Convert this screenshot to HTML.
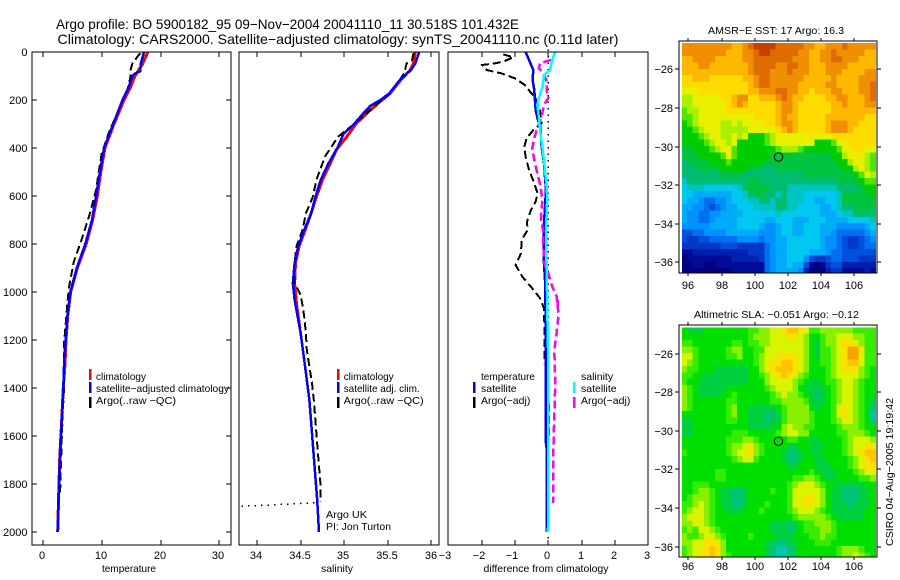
<!DOCTYPE html>
<html>
<head>
<meta charset="utf-8">
<title>Argo profile</title>
<style>
html,body{margin:0;padding:0;background:#fff;}
svg{display:block;}
text{font-family:"Liberation Sans",sans-serif;fill:#000;font-size:10.5px;}
.tick{font-size:11px;}
.title{font-size:14px;}
line,rect.box{shape-rendering:crispEdges;}
</style>
</head>
<body>
<svg id="chart" width="900" height="580" viewBox="0 0 900 580" xmlns="http://www.w3.org/2000/svg">
<defs>
<clipPath id="clipMap1"><rect x="682" y="43" width="195" height="230"/></clipPath>
<clipPath id="clipMap2"><rect x="682" y="327" width="195" height="230"/></clipPath>
</defs>
<text class="title" x="56" y="29" textLength="463" lengthAdjust="spacingAndGlyphs">Argo profile: BO 5900182_95 09−Nov−2004 20041110_11 30.518S 101.432E</text>
<text class="title" x="57.5" y="44" textLength="561" lengthAdjust="spacingAndGlyphs">Climatology: CARS2000. Satellite−adjusted climatology: synTS_20041110.nc (0.11d later)</text>

<text x="129" y="572" text-anchor="middle" textLength="54" lengthAdjust="spacingAndGlyphs">temperature</text>
<text x="337" y="572" text-anchor="middle">salinity</text>
<text x="546" y="572" text-anchor="middle" textLength="125" lengthAdjust="spacingAndGlyphs">difference from climatology</text>

<text x="96" y="380" textLength="50" lengthAdjust="spacingAndGlyphs">climatology</text>
<text x="96" y="392" textLength="133" lengthAdjust="spacingAndGlyphs">satellite−adjusted climatology</text>
<text x="96" y="404" textLength="80" lengthAdjust="spacingAndGlyphs">Argo(..raw −QC)</text>

<text x="343.7" y="380" textLength="50" lengthAdjust="spacingAndGlyphs">climatology</text>
<text x="343.7" y="392" textLength="76" lengthAdjust="spacingAndGlyphs">satellite adj. clim.</text>
<text x="343.7" y="404" textLength="80" lengthAdjust="spacingAndGlyphs">Argo(..raw −QC)</text>
<text x="326" y="518" textLength="41" lengthAdjust="spacingAndGlyphs">Argo UK</text>
<text x="326" y="530" textLength="65" lengthAdjust="spacingAndGlyphs">PI: Jon Turton</text>

<text x="481" y="380" textLength="54" lengthAdjust="spacingAndGlyphs">temperature</text>
<text x="481" y="392">satellite</text>
<text x="481" y="404">Argo(−adj)</text>
<text x="581" y="380">salinity</text>
<text x="581" y="392">satellite</text>
<text x="581" y="404">Argo(−adj)</text>

<text x="776" y="34" text-anchor="middle" textLength="136" lengthAdjust="spacingAndGlyphs">AMSR−E SST: 17 Argo: 16.3</text>
<text x="776.5" y="318" text-anchor="middle" textLength="165" lengthAdjust="spacingAndGlyphs">Altimetric SLA: −0.051 Argo: −0.12</text>
<text transform="translate(893,546) rotate(-90)" textLength="148" lengthAdjust="spacingAndGlyphs">CSIRO 04−Aug−2005 19:19:42</text>
</svg>
<script>
// ---------- tick labels ----------
var depthTicks = [0,200,400,600,800,1000,1200,1400,1600,1800,2000];
var tempTicks = [0,10,20,30];
var salTicks = [34,34.5,35,35.5,36];
var diffTicks = [-3,-2,-1,0,1,2,3];
var lonTicks = [96,98,100,102,104,106];
var latTicks = [-26,-28,-30,-32,-34,-36];

// ---------- temperature panel ----------
var tClimDepth = [0,50,100,150,200,300,400,500,600,700,800,900,1000,1100,1200,1300,1400,1500,1600,1700,1800,1900,2000];
var tClim = [17.8,16.9,15.6,14.8,13.75,12.05,10.5,9.8,9.2,8.4,7.3,5.8,4.67,4.15,3.87,3.7,3.4,3.2,3.0,2.8,2.67,2.56,2.45];
var tSatDepth = [0,50,80,90,100,150,200,300,400,500,600,700,800,900,1000,1100,1200,1300,1400,1500,1600,1700,1800,1900,2000];
var tSat = [17.15,16.6,16.5,15.6,15.2,14.5,13.5,11.93,10.35,9.65,9.0,8.3,7.15,5.7,4.6,4.1,3.8,3.55,3.4,3.2,3.0,2.8,2.67,2.56,2.45];
var tArgoDepth = [5,47,70,110,167,200,277,340,423,506,575,672,783,874,978,1033,1228,1400,1510,1617,1728,1850];
var tArgo = [16.5,15.2,14.9,14.8,14.2,13.5,12.2,11.1,9.95,9.4,9,7.95,6.5,5.2,4.4,4.15,3.5,3.53,3.3,3.13,3.0,2.85];

// ---------- salinity panel ----------
var sClimDepth = [0,47,75,117,172,214,256,298,353,408,464,533,603,672,742,811,880,964,1047,1150];
var sClim = [35.82,35.8,35.76,35.65,35.53,35.39,35.26,35.14,35.03,34.91,34.84,34.75,34.68,34.62,34.55,34.48,34.44,34.43,34.45,34.49];
var sSatDepth = [0,5,47,75,117,172,197,225,256,298,342,394,464,533,603,672,742,811,880,964,1033,1172,1311,1450,1589,1728,1867,2000];
var sSat = [35.86,35.86,35.82,35.77,35.64,35.52,35.43,35.3,35.22,35.12,34.99,34.93,34.82,34.73,34.67,34.62,34.54,34.47,34.43,34.41,34.43,34.5,34.55,34.6,34.63,34.66,34.69,34.71];
var sArgoDepth = [5,35,47,89,117,172,214,256,298,353,436,533,603,672,742,811,880,964,1006,1033,1102,1172,1241,1311,1380,1450,1589,1728,1811,1874];
var sArgo = [35.8,35.78,35.72,35.69,35.64,35.53,35.39,35.26,35.12,34.93,34.78,34.68,34.64,34.56,34.52,34.45,34.43,34.43,34.49,34.51,34.54,34.56,34.57,34.6,34.63,34.65,34.68,34.71,34.73,34.73];
var surfaceLinkSal = [33.82,34.69];
var surfaceLinkDepth = [1893,1878];

// ---------- difference panel ----------
var dArgoTDepth = [10,22,40,47,54,75,89,110,138,165,186,242,297,325,360,394,436,491,547,589,624,658,707,742,783,839,887,936,985,1026,1068,1130,1242,1297];
var dArgoT = [-1.35,-1.05,-1.35,-1.6,-1.98,-1.85,-1.4,-1.0,-0.7,-0.55,-0.4,-0.25,-0.2,-0.45,-0.65,-0.72,-0.68,-0.58,-0.42,-0.32,-0.38,-0.52,-0.64,-0.62,-0.8,-0.82,-0.98,-0.78,-0.48,-0.25,-0.13,-0.12,-0.12,-0.12];
var dArgoTDeepDepth = [1464,1617];
var dArgoTDeep = [0.02,0.02];
var dSatTDepth = [0,33,75,117,158,242,277,311,394,464,575,742,881,950,1075,1317,1617,1650,2000];
var dSatT = [-0.68,-0.58,-0.45,-0.47,-0.42,-0.38,-0.32,-0.24,-0.2,-0.13,-0.07,-0.14,-0.13,-0.1,-0.08,-0.07,-0.08,-0.05,-0.05];
var dSatSDepth = [0,33,75,96,144,186,221,277,325,394,464,547,603,742,881,1075,1300,2000];
var dSatS = [0.2,0.12,0.05,-0.13,-0.17,-0.27,-0.33,-0.28,-0.25,-0.18,-0.12,-0.06,-0.03,-0.07,-0.05,-0.03,0,-0.01];
var dArgoSDepth = [33,47,68,89,124,165,186,221,269,325,360,401,450,505,561,617,700,742,811,881,922,978,1019,1061,1033,1102,1172,1242,1380,1520,1660,1880];
var dArgoS = [0.08,-0.25,-0.28,-0.15,-0.04,-0.05,0.02,-0.13,-0.2,-0.35,-0.42,-0.48,-0.42,-0.33,-0.23,-0.18,-0.22,-0.16,-0.15,-0.12,0,0.12,0.25,0.28,0.28,0.3,0.25,0.18,0.21,0.18,0.15,0.14];
var zeroLineValues = [0,0];
var zeroLineDepth = [-10,2040];

// ---------- map positions ----------
var argoLon = [101.432];
var argoLat = [-30.518];

// ---------- SST map levels (rows north to south) ----------
var sstGrid = [
[18,18,18,18,18,18,18,18,18,17,17,18,19,20,20,20,20,19,19,19,19,19,18,18,17,17,18,18,18,19,18,18,18,18,18],
[18,18,18,18,18,18,18,18,17,17,17,18,18,19,20,20,19,19,19,19,19,18,18,17,17,18,18,19,18,18,18,18,18,17,17],
[17,17,18,18,18,18,17,17,17,17,17,18,18,19,19,19,19,19,19,19,18,18,18,17,17,18,18,19,19,18,18,18,17,17,17],
[17,17,17,18,18,17,17,17,17,17,17,17,18,19,19,19,19,18,18,19,19,18,18,17,17,17,18,18,18,18,17,17,17,17,17],
[17,17,17,17,17,17,17,17,17,17,17,17,18,19,19,19,18,18,18,19,18,18,18,17,17,17,18,18,18,17,17,17,17,18,18],
[16,16,17,17,17,16,16,16,16,16,16,17,17,18,19,19,18,18,18,18,18,18,17,17,17,17,17,18,17,17,17,17,18,18,18],
[16,16,16,16,16,16,16,16,16,16,16,16,17,18,19,19,18,18,18,18,18,17,17,17,17,17,18,18,17,17,17,17,18,18,19],
[15,15,15,16,16,16,16,16,16,16,16,16,17,17,18,18,18,19,19,18,18,17,17,16,17,17,17,18,18,17,17,17,18,18,19],
[14,14,15,15,15,15,15,16,16,17,18,18,16,16,17,17,17,18,19,18,17,17,16,16,16,16,17,17,18,18,17,17,17,18,19],
[14,14,15,15,15,15,15,15,16,17,18,17,16,16,16,16,16,17,18,18,17,16,16,16,16,16,16,17,17,18,17,17,17,18,18],
[13,14,14,15,15,15,15,15,16,16,16,16,16,16,16,16,16,17,18,18,17,16,16,16,16,16,16,17,17,17,17,17,17,17,17],
[13,13,14,15,15,15,15,15,15,15,15,15,15,16,16,16,16,17,18,17,17,16,16,16,16,16,17,17,17,17,17,17,17,16,16],
[12,13,14,15,15,15,15,14,14,15,14,15,15,15,15,16,16,17,18,18,17,16,16,16,16,16,17,18,18,18,17,17,16,16,16],
[12,12,13,14,15,15,15,14,14,14,14,14,15,15,15,15,15,16,17,18,17,16,16,16,16,16,17,18,18,18,17,16,16,16,16],
[12,12,12,13,14,15,15,14,14,15,14,15,12,12,12,13,14,15,15,15,15,15,15,15,15,15,15,16,16,16,16,16,16,16,16],
[12,12,12,12,13,14,15,15,14,15,12,12,12,12,12,13,14,15,15,15,15,15,15,15,12,12,12,13,15,15,16,16,16,16,16],
[11,11,12,12,12,13,14,15,15,13,12,12,12,12,12,12,12,13,14,14,14,13,12,12,12,12,12,12,13,15,15,16,16,15,15],
[11,11,11,12,12,12,12,13,15,13,12,12,12,12,12,12,11,11,11,11,11,11,11,11,11,11,11,12,12,14,15,15,15,14,13],
[10,11,11,11,11,12,12,12,13,12,12,12,12,12,12,11,11,11,11,11,11,11,11,11,11,11,11,11,12,12,14,15,15,14,13],
[10,10,10,11,11,11,11,12,12,12,12,12,11,11,10,10,10,11,11,11,11,11,11,11,11,11,11,11,11,12,12,14,15,14,13],
[10,10,10,10,10,10,10,11,11,11,11,10,10,10,10,10,10,10,10,10,10,10,11,11,11,11,11,11,11,11,11,12,13,15,14],
[9,10,10,10,10,10,10,10,10,10,10,10,11,11,10,10,10,10,10,10,10,10,10,10,10,10,10,10,11,11,11,11,12,13,13],
[8,9,9,9,8,8,8,8,8,8,9,10,11,11,11,11,10,10,10,9,9,9,9,9,9,9,9,9,10,10,10,10,11,12,12],
[8,8,7,7,7,7,7,7,7,8,8,9,10,11,11,10,10,9,10,9,9,9,8,8,8,8,8,8,9,11,11,11,11,11,12],
[8,7,7,6,5,5,6,6,7,8,8,8,9,9,10,10,9,10,10,9,9,9,8,8,7,7,8,8,9,11,11,11,11,11,11],
[7,7,6,6,5,4,5,6,7,7,8,8,8,9,9,9,9,10,10,9,9,8,8,8,8,7,7,8,9,10,10,11,11,11,11],
[7,6,6,5,5,6,6,7,7,7,7,8,8,8,8,8,8,9,8,8,8,8,8,8,8,7,7,7,8,9,9,10,10,10,10],
[7,6,6,5,5,6,7,7,7,7,8,8,8,8,8,7,7,8,8,8,7,7,7,8,8,8,7,7,7,7,8,8,8,8,9],
[6,6,6,6,6,7,7,7,7,7,8,8,8,8,7,6,6,7,8,8,7,7,8,8,8,7,7,7,6,6,6,6,6,7,8],
[4,4,5,5,6,6,6,6,7,7,7,7,7,7,6,6,6,7,8,8,7,7,8,8,8,7,7,6,5,5,5,5,5,6,7],
[4,3,3,4,4,5,5,5,5,5,6,6,6,6,5,6,6,7,7,8,8,8,8,8,8,7,6,6,5,4,3,3,4,5,6],
[3,3,3,3,3,3,3,4,4,4,3,3,3,3,3,5,6,7,7,8,8,8,8,8,8,7,6,6,5,4,3,3,4,5,5],
[1,1,2,2,2,2,2,2,2,2,2,2,3,3,3,5,6,7,7,8,8,8,8,7,7,7,6,5,5,4,4,4,4,4,4],
[0,1,1,1,1,1,1,1,1,2,2,2,2,2,3,5,6,7,7,8,8,8,6,4,3,3,4,5,5,4,4,4,3,3,3],
[0,0,1,1,0,0,1,1,1,1,1,1,1,1,1,5,6,7,7,8,7,7,4,1,0,1,3,4,4,2,2,2,2,2,2],
[0,0,0,0,0,0,0,0,0,1,1,1,1,1,1,5,6,7,7,7,7,6,2,0,0,0,2,3,3,1,1,1,1,2,1]
];

// ---------- SLA map levels (rows north to south) ----------
var slaGrid = [
[12,11,11,11,12,12,12,12,12,12,12,12,13,13,14,14,15,15,16,17,17,16,15,13,13,14,14,14,14,14,14,13,13,13,13],
[12,12,12,12,12,12,12,12,12,12,12,12,13,14,14,14,15,15,15,16,16,15,14,12,12,13,14,14,15,15,15,14,14,13,13],
[13,13,12,12,12,12,12,12,12,13,13,12,13,13,14,14,15,15,15,15,15,15,14,12,11,13,14,14,15,16,16,15,14,13,13],
[14,14,13,12,12,12,12,12,13,14,14,12,12,13,13,15,15,15,15,15,15,15,14,12,11,13,13,14,15,16,18,18,16,13,13],
[15,15,13,12,12,12,12,12,13,13,14,12,12,13,14,15,15,16,16,16,16,15,14,12,11,13,13,14,15,16,18,18,15,13,13],
[15,14,13,12,12,12,12,12,12,12,12,12,12,13,14,15,16,16,17,17,16,15,14,12,12,13,13,14,15,16,17,17,15,13,13],
[14,13,13,12,12,12,11,11,11,11,11,11,12,12,14,15,16,17,17,17,16,15,14,12,12,12,13,14,15,16,16,16,14,13,12],
[13,13,12,12,11,11,11,11,11,11,11,11,12,12,13,14,15,16,17,16,15,14,13,12,12,12,13,14,15,15,15,15,14,13,12],
[13,12,12,11,11,11,11,11,11,11,11,11,12,12,12,14,15,15,15,15,14,13,12,11,11,12,13,13,14,15,15,14,13,12,12],
[14,13,12,11,11,11,11,11,12,12,12,12,12,12,12,13,14,15,15,15,14,12,11,11,11,11,12,13,14,15,15,14,13,12,12],
[14,13,12,11,11,11,11,12,12,13,12,12,12,12,12,12,13,14,15,14,14,13,12,11,10,11,12,13,14,15,15,14,13,12,12],
[14,13,12,12,12,12,12,12,13,13,12,12,12,12,12,12,13,13,14,14,14,14,13,11,11,11,12,13,14,15,15,14,13,12,11],
[14,13,12,12,12,12,12,12,13,14,12,12,11,11,11,11,11,12,13,14,14,14,14,12,11,12,12,13,15,16,15,14,13,12,10],
[12,12,12,12,12,12,12,12,13,14,12,12,11,11,11,10,10,11,13,14,14,14,14,13,12,12,12,13,15,16,15,14,13,12,9],
[11,11,12,12,12,12,12,12,13,13,12,12,11,11,11,10,11,11,13,14,14,14,14,13,12,12,12,13,14,15,15,14,13,12,10],
[11,11,12,12,12,12,12,12,12,12,12,12,11,11,11,11,11,12,14,15,14,14,13,13,12,12,12,12,13,14,14,14,13,12,12],
[11,11,12,12,12,12,12,12,12,13,13,13,12,12,12,12,12,13,14,15,15,14,14,12,12,12,12,12,13,13,14,14,14,13,12],
[12,12,12,12,12,12,12,12,13,13,13,14,14,13,12,12,12,12,12,13,13,12,12,11,11,12,12,12,12,13,14,15,15,15,14],
[12,12,12,12,12,12,12,12,13,14,14,15,16,14,13,12,12,12,12,11,11,12,12,11,11,11,12,12,12,13,14,15,15,16,16],
[13,12,12,12,12,12,12,12,13,14,15,15,16,14,13,12,12,12,11,10,10,11,12,11,11,12,12,12,12,13,14,15,16,17,17],
[12,12,12,12,12,12,12,12,12,13,14,15,15,13,12,12,12,12,11,10,10,11,12,12,11,11,12,12,12,12,13,14,15,16,17],
[12,12,12,12,12,12,12,12,12,12,12,12,12,12,12,12,12,12,12,11,11,12,12,12,11,11,11,12,12,12,13,14,15,16,16],
[12,12,12,12,12,12,13,13,12,12,12,12,12,12,12,12,12,12,12,12,12,12,12,13,12,11,11,11,12,12,12,13,14,15,15],
[12,12,12,12,12,12,13,13,12,12,12,12,12,12,12,12,12,12,12,12,13,13,14,14,13,12,11,11,12,12,12,12,13,13,14],
[12,12,13,13,13,12,12,12,12,12,12,12,12,12,12,12,12,12,12,13,14,15,15,15,14,13,12,12,11,11,11,11,11,12,12],
[12,12,13,14,14,13,12,11,11,10,10,11,12,12,12,12,13,12,12,13,15,15,15,15,15,14,12,11,11,10,10,10,11,11,12],
[12,13,14,14,14,13,12,11,11,10,10,11,12,12,12,12,12,12,12,13,15,15,16,16,15,14,12,11,11,10,10,10,11,11,12],
[13,13,14,15,14,13,12,11,11,10,10,11,12,12,12,13,12,12,12,13,15,15,16,15,15,14,12,11,11,11,10,11,11,11,12],
[13,14,15,15,14,13,12,12,11,11,11,12,12,12,13,12,12,12,12,13,14,15,15,15,14,13,12,11,11,11,11,11,11,12,12],
[14,15,15,15,14,13,12,12,12,12,12,12,12,12,12,12,12,12,12,12,13,14,14,14,14,14,13,12,11,11,11,11,11,12,12],
[14,14,15,15,14,13,12,12,12,12,12,12,12,12,12,12,11,11,11,10,11,12,13,13,14,14,14,13,12,12,12,12,12,12,12],
[13,14,13,15,15,14,13,12,12,12,12,12,12,12,12,12,11,11,11,10,11,12,13,13,13,14,14,13,12,12,12,12,12,12,12],
[14,13,13,14,15,15,14,13,12,12,12,12,13,12,12,12,12,11,11,11,12,12,12,13,13,14,13,13,12,12,12,12,12,12,12],
[14,14,15,15,16,16,15,14,12,12,12,12,12,12,12,11,11,10,10,11,11,12,12,12,13,13,13,12,12,12,12,12,12,12,12],
[13,14,15,15,16,17,16,14,12,12,12,12,12,12,12,11,10,9,9,10,11,12,12,12,12,12,12,12,13,14,14,14,13,12,12],
[13,14,15,16,16,17,16,14,13,12,12,12,12,12,12,11,10,9,9,10,11,12,12,12,12,12,12,12,13,14,14,15,14,13,12]
];

// ---------- colour scales, indexed by level 0..20 ----------
var sstColors = ['#000080','#000c98','#0020b0','#0038c8','#0050e0','#0070f0','#0090ff','#00acf8','#00c8f0','#00c4c0','#00bc70','#00c440','#00cc00','#50e400','#a8f000','#e8f000','#ffdc00','#ffb800','#f09000','#e06c00','#c84000'];
var slaColors = ['#000080','#000c98','#0020b0','#0038c8','#0050e0','#0070f0','#0090ff','#00acf8','#00c8f0','#00c8a8','#00c478','#00d040','#00e000','#38ec00','#88f000','#d8f400','#fce000','#ffc400','#f8a400','#e07400','#c84800'];

var NS = 'http://www.w3.org/2000/svg';
var svg = document.getElementById('chart');

// ---------- axis functions ----------
function yDepth(d){ return 52 + d * 0.24; }
function xTemp(t){ return 43.3 + t * 5.87; }
function xSal(s){ return 257.3 + (s - 34) * 86.85; }
function xDiff(v){ return 548.3 + v * 33.33; }
function xLon(lon){ return 688.3 + (lon - 96) * 16.6; }
function yLat1(lat){ return 69.3 + (-26 - lat) * 19.3; }
function yLat2(lat){ return 353.5 + (-26 - lat) * 19.3; }
function fmt(n){ return String(n).replace('-', '\u2212'); }

function drawBox(x0, y0, x1, y1){
  var b = document.createElementNS(NS, 'rect');
  
  
  b.setAttribute('class', 'box');
  b.setAttribute('x', x0); b.setAttribute('y', y0);
  b.setAttribute('width', x1 - x0); b.setAttribute('height', y1 - y0);
  b.setAttribute('fill', 'none'); b.setAttribute('stroke', '#000'); b.setAttribute('stroke-width', 1);
  svg.appendChild(b);
}
function drawTick(x1, y1, x2, y2){
  var t = document.createElementNS(NS, 'line');
  
  
  t.setAttribute('x1', x1); t.setAttribute('y1', y1);
  t.setAttribute('x2', x2); t.setAttribute('y2', y2);
  t.setAttribute('stroke', '#000'); t.setAttribute('stroke-width', 1);
  svg.appendChild(t);
}
function drawLabel(x, y, str, anchor){
  var t = document.createElementNS(NS, 'text');
  
  
  t.setAttribute('class', 'tick');
  t.setAttribute('x', x); t.setAttribute('y', y);
  t.setAttribute('text-anchor', anchor);
  t.textContent = str;
  svg.appendChild(t);
}
function drawSeries(depths, values, xFn, color, width, dash, name){
  var pts = [];
  for (var i = 0; i < values.length; i++){
    pts.push(xFn(values[i]).toFixed(1) + ',' + yDepth(depths[i]).toFixed(1));
  }
  var p = document.createElementNS(NS, 'polyline');
  
  
  p.setAttribute('points', pts.join(' '));
  p.setAttribute('fill', 'none');
  p.setAttribute('stroke', color);
  p.setAttribute('stroke-width', width);
  p.setAttribute('shape-rendering', 'crispEdges');
  if (dash) p.setAttribute('stroke-dasharray', dash);
  svg.appendChild(p);
}
function drawLegendBar(x, y, color, name){
  var l = document.createElementNS(NS, 'line');
  
  
  l.setAttribute('x1', x); l.setAttribute('y1', y);
  l.setAttribute('x2', x); l.setAttribute('y2', y + 11);
  l.setAttribute('stroke', color); l.setAttribute('stroke-width', 2.5);
  svg.appendChild(l);
}
function drawMap(grid, palette, yLat, clipId, name){
  var g = document.createElementNS(NS, 'g');
  
  
  g.setAttribute('clip-path', 'url(#' + clipId + ')');
  g.setAttribute('shape-rendering', 'crispEdges');
  for (var r = 0; r < grid.length; r++){
    for (var c = 0; c < grid[r].length; c++){
      var lon = 95.6 + c / 3, lat = -24.64 - r / 3;
      var x0 = xLon(lon), x1 = xLon(lon + 1 / 3);
      var y0 = yLat(lat), y1 = yLat(lat - 1 / 3);
      var cell = document.createElementNS(NS, 'rect');
      
      
      cell.setAttribute('x', x0.toFixed(1));
      cell.setAttribute('y', y0.toFixed(1));
      cell.setAttribute('width', (x1 - x0 + 0.6).toFixed(1));
      cell.setAttribute('height', (y1 - y0 + 0.6).toFixed(1));
      cell.setAttribute('fill', palette[Math.max(0, Math.min(20, Math.round(grid[r][c])))]);
      g.appendChild(cell);
    }
  }
  svg.appendChild(g);
}
function drawCircle(lon, lat, yLat){
  var o = document.createElementNS(NS, 'circle');
  
  
  o.setAttribute('cx', xLon(lon).toFixed(1));
  o.setAttribute('cy', (yLat(lat) + 0.5).toFixed(1));
  o.setAttribute('r', 4.2);
  o.setAttribute('fill', 'none');
  o.setAttribute('stroke', '#000');
  o.setAttribute('stroke-width', 1);
  svg.appendChild(o);
}

// ---------- panel 1: temperature ----------
tempTicks.forEach(function(v){
  var x = Math.round(xTemp(v));
  drawTick(x, 52, x, 57); drawTick(x, 545, x, 540);
  drawLabel(x - 1, 559, fmt(v), 'middle');
});
depthTicks.forEach(function(d){
  var y = Math.round(yDepth(d));
  drawTick(32, y, 37, y); drawTick(231, y, 226, y);
  drawLabel(27.5, y + 4, String(d), 'end');
});
drawSeries(tClimDepth, tClim, xTemp, '#ff0000', 3, null, 'climatology-temperature-line');
drawSeries(tArgoDepth, tArgo, xTemp, '#000000', 2, '8 4', 'argo-temperature-line');
drawSeries(tSatDepth, tSat, xTemp, '#0000ff', 2.5, null, 'satellite-temperature-line');
drawBox(32, 52, 231, 545);
drawLegendBar(90, 369, '#ff0000', 'legend-swatch-climatology');
drawLegendBar(90, 382, '#0000ff', 'legend-swatch-satellite');
drawLegendBar(90, 397, '#000000', 'legend-swatch-argo');

// ---------- panel 2: salinity ----------
salTicks.forEach(function(v){
  var x = Math.round(xSal(v));
  drawTick(x, 52, x, 57); drawTick(x, 545, x, 540);
  drawLabel(v === 36 ? x : x - 1, 559, String(v), 'middle');
});
drawSeries(sClimDepth, sClim, xSal, '#ff0000', 3, null, 'climatology-salinity-line');
drawSeries(sArgoDepth, sArgo, xSal, '#000000', 2, '8 4', 'argo-salinity-line');
drawSeries(sSatDepth, sSat, xSal, '#0000ff', 2.5, null, 'satellite-salinity-line');
drawSeries(surfaceLinkDepth, surfaceLinkSal, xSal, '#000000', 1.5, '1.5 5', 'surface-link-dotted-line');
drawBox(239, 52, 439, 545);
drawLegendBar(338, 369, '#ff0000', 'legend-swatch-climatology-salinity');
drawLegendBar(338, 382, '#0000ff', 'legend-swatch-satellite-salinity');
drawLegendBar(338, 397, '#000000', 'legend-swatch-argo-salinity');

// ---------- panel 3: differences ----------
diffTicks.forEach(function(v){
  var x = Math.round(xDiff(v));
  if (v !== -3 && v !== 3){ drawTick(x, 52, x, 57); drawTick(x, 545, x, 540); }
  drawLabel(x - (v < 0 ? 3 : 1), 559, fmt(v), 'middle');
});
drawSeries(zeroLineDepth, zeroLineValues, xDiff, '#000000', 1.5, '1.5 5', 'zero-difference-dotted-line');
drawSeries(dArgoTDepth, dArgoT, xDiff, '#000000', 2, '8 4', 'argo-temperature-difference-line');
drawSeries(dArgoTDeepDepth, dArgoTDeep, xDiff, '#000000', 2, '8 4', 'argo-temperature-difference-deep-line');
drawSeries(dSatTDepth, dSatT, xDiff, '#0000ff', 2.5, null, 'satellite-temperature-difference-line');
drawSeries(dArgoSDepth, dArgoS, xDiff, '#ff00ff', 2.5, '8 4', 'argo-salinity-difference-line');
drawSeries(dSatSDepth, dSatS, xDiff, '#00ffff', 2.5, null, 'satellite-salinity-difference-line');
drawBox(448, 52, 648, 545);
drawLegendBar(474, 382, '#0000ff', 'legend-swatch-temperature-satellite');
drawLegendBar(474, 397, '#000000', 'legend-swatch-temperature-argo');
drawLegendBar(574, 382, '#00ffff', 'legend-swatch-salinity-satellite');
drawLegendBar(574, 397, '#ff00ff', 'legend-swatch-salinity-argo');

// ---------- maps ----------
drawMap(sstGrid, sstColors, yLat1, 'clipMap1', 'sst-map');
drawBox(679, 41, 877, 273);
lonTicks.forEach(function(v){
  var x = Math.round(xLon(v));
  drawTick(x, 41, x, 38); drawTick(x, 273, x, 276);
  drawLabel(x, 289, String(v), 'middle');
});
latTicks.forEach(function(v){
  var y = Math.round(yLat1(v));
  drawTick(679, y, 675, y); drawTick(877, y, 881, y);
  drawLabel(673, y + 4, fmt(v), 'end');
});
drawCircle(argoLon[0], argoLat[0], yLat1);

drawMap(slaGrid, slaColors, yLat2, 'clipMap2', 'sla-map');
drawBox(679, 325, 877, 557);
lonTicks.forEach(function(v){
  var x = Math.round(xLon(v));
  drawTick(x, 325, x, 322); drawTick(x, 557, x, 560);
  drawLabel(x, 570, String(v), 'middle');
});
latTicks.forEach(function(v){
  var y = Math.round(yLat2(v));
  drawTick(679, y, 675, y); drawTick(877, y, 881, y);
  drawLabel(673, y + 4, fmt(v), 'end');
});
drawCircle(argoLon[0], argoLat[0], yLat2);
</script>
</body>
</html>
